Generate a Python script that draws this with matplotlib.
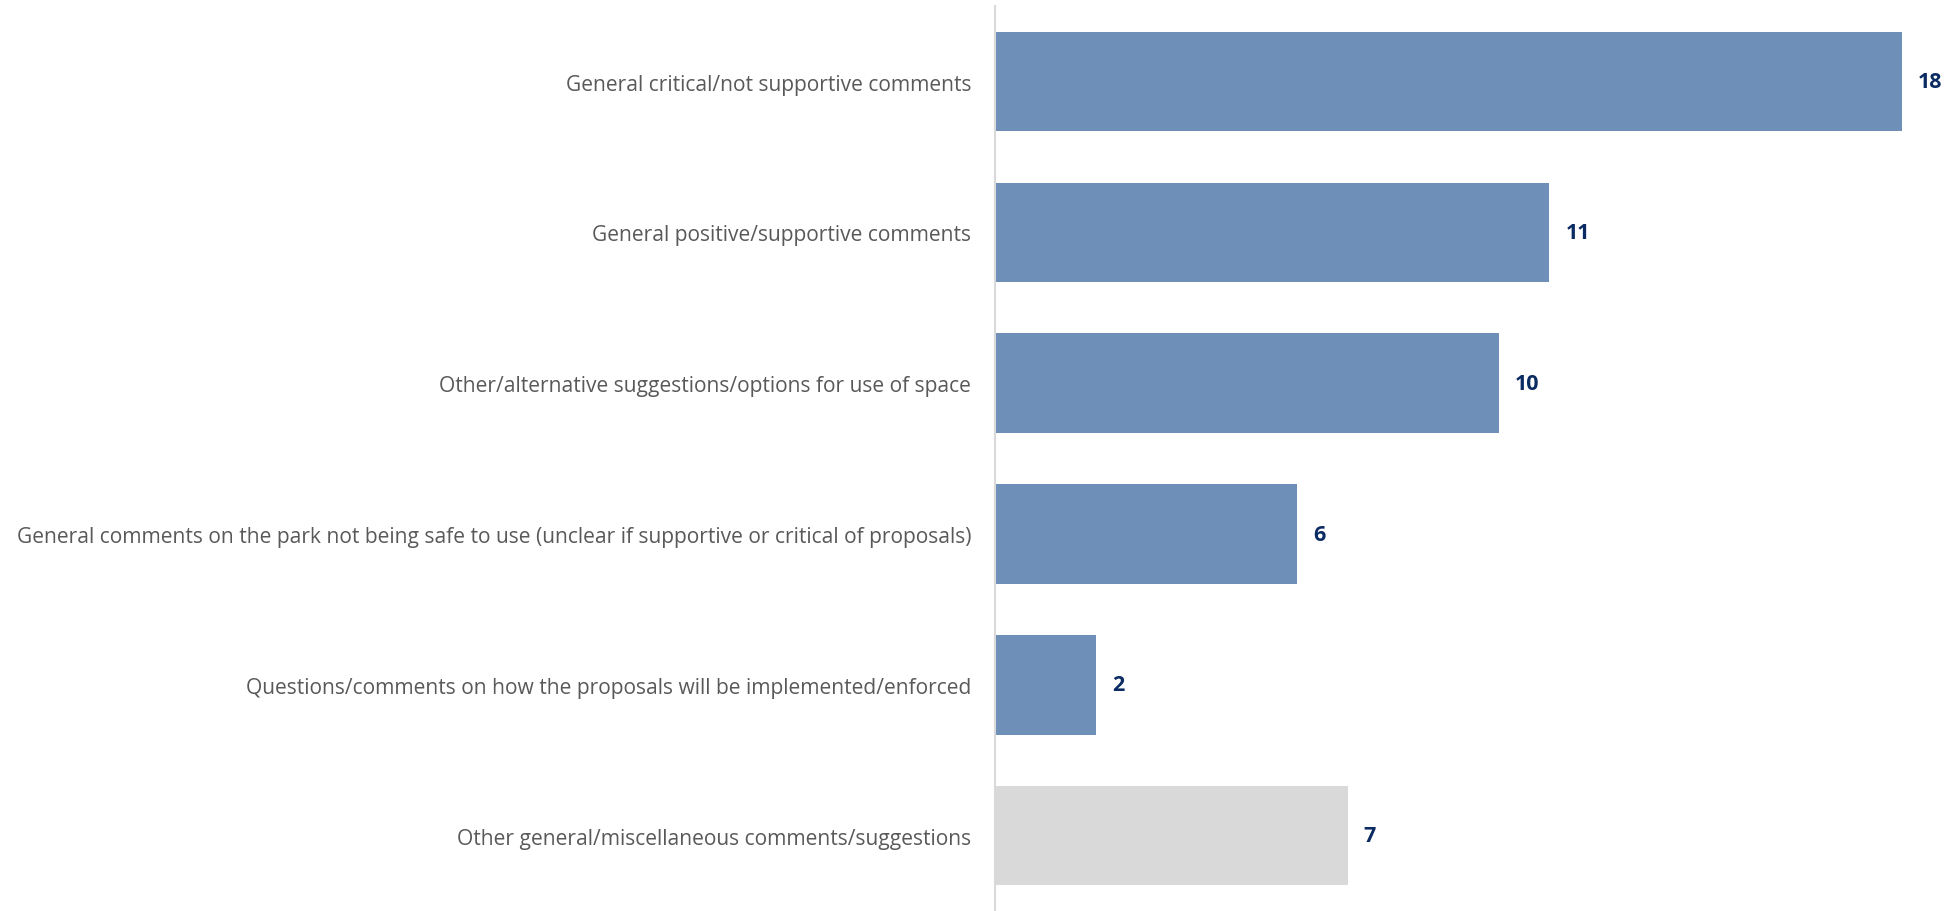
import matplotlib
matplotlib.use("Agg")
import matplotlib.pyplot as plt

categories = [
    "General critical/not supportive comments",
    "General positive/supportive comments",
    "Other/alternative suggestions/options for use of space",
    "General comments on the park not being safe to use (unclear if supportive or critical of proposals)",
    "Questions/comments on how the proposals will be implemented/enforced",
    "Other general/miscellaneous comments/suggestions",
]
counts = [18, 11, 10, 6, 2, 7]
bar_colors = ["#6e8fb8"] * 5 + ["#d9d9d9"]

plt.rcParams["font.family"] = ["Open Sans", "DejaVu Sans"]

fig = plt.figure(figsize=(19.57, 9.12), dpi=100)
ax = fig.add_axes([0.5084, 0.0, 0.4916, 0.992])

pos = list(range(len(categories)))
ax.barh(pos, counts, height=0.66, color=bar_colors)
ax.set_ylim(len(categories) - 0.5, -0.5)
ax.set_xlim(0, 19.09)

for p, v in zip(pos, counts):
    ax.text(v + 0.32, p, str(v), va="center", ha="left",
            fontsize=15.5, fontweight="bold", color="#0b2b63")

ax.set_yticks(pos)
ax.set_yticklabels(categories, fontsize=15.1, color="#595959")
ax.tick_params(axis="y", length=0, pad=17)
ax.set_xticks([])

for s in ["top", "right", "bottom"]:
    ax.spines[s].set_visible(False)
ax.spines["left"].set_color("#d9d9d9")
ax.spines["left"].set_linewidth(1.5)

fig.savefig("out.png", dpi=100)
